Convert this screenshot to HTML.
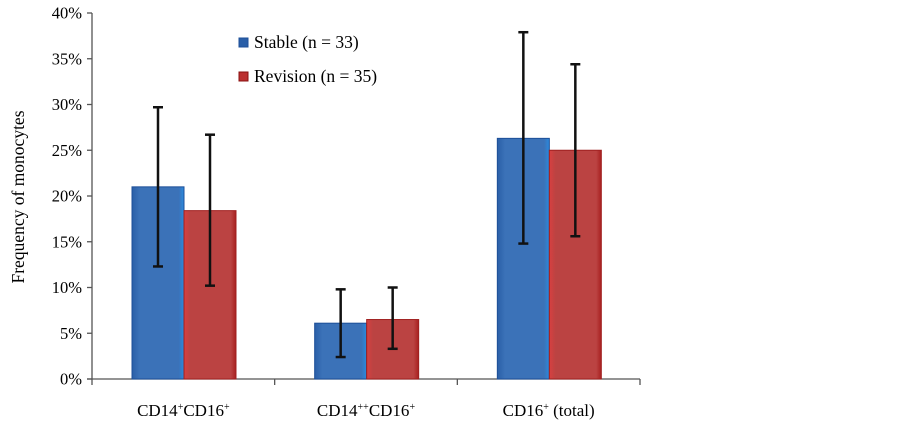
<!DOCTYPE html>
<html><head><meta charset="utf-8"><style>
body{margin:0;background:#fff;}
svg{display:block;font-family:"Liberation Serif",serif;}
</style></head><body>
<svg id="c" width="903" height="424">
<defs>
<linearGradient id="gb" x1="0" x2="1"><stop offset="0" stop-color="#2a5fa8"/><stop offset="0.15" stop-color="#3b72b8"/><stop offset="0.9" stop-color="#3b72b8"/><stop offset="1" stop-color="#2a8be0"/></linearGradient>
<linearGradient id="gr" x1="0" x2="1"><stop offset="0" stop-color="#d84040"/><stop offset="0.12" stop-color="#bb4342"/><stop offset="0.9" stop-color="#bb4342"/><stop offset="1" stop-color="#a82020"/></linearGradient>
</defs>
</svg>
<script>
const catLabels=[["CD14","+","CD16","+"],["CD14","++","CD16","+"],["CD16","+"," (total)",""]];
const stable=[21.0,6.1,26.3];
const stableLo=[12.3,2.4,14.8];
const stableHi=[29.7,9.8,37.9];
const revision=[18.4,6.5,25.0];
const revisionLo=[10.2,3.3,15.6];
const revisionHi=[26.7,10.0,34.4];
const yTicks=[0,5,10,15,20,25,30,35,40];
const ns="http://www.w3.org/2000/svg";
const svg=document.getElementById('c');
const x0=92,x1=640,y0=379,y1=13,ymax=40;
const band=(x1-x0)/3;
const Y=v=>y0-(v/ymax)*(y0-y1);
const X=i=>x0+i*band;
function el(t,a,p){const e=document.createElementNS(ns,t);for(const k in a)e.setAttribute(k,a[k]);(p||svg).appendChild(e);return e;}
let ax=el('line',{x1:x0,y1:y1,x2:x0,y2:y0,stroke:'#555','stroke-width':1.3});


let bx=el('line',{x1:x0-5,y1:y0,x2:x1,y2:y0,stroke:'#555','stroke-width':1.3});


yTicks.forEach(t=>{
 const tl=el('line',{x1:x0-5,y1:Y(t),x2:x0,y2:Y(t),stroke:'#555','stroke-width':1.3});
 
 
 const tx=el('text',{x:x0-10,y:Y(t)+5.5,'text-anchor':'end','font-size':16.5});
 tx.textContent=t+'%';
 
 
});
for(let i=0;i<=3;i++){
 const tl=el('line',{x1:X(i),y1:y0,x2:X(i),y2:y0+6,stroke:'#555','stroke-width':1.3});
 
 
}
const bw=52,off=40;
function bar(i,v,lo,hi,fill,edge,xs,name){
 const r=el('rect',{x:xs,y:Y(v),width:bw,height:y0-Y(v),fill:fill,stroke:edge,'stroke-width':1});
 
 
 const cx=xs+bw/2;
 const g=el('g',{stroke:'#111','stroke-width':2.5});
 
 
 el('line',{x1:cx,y1:Y(hi),x2:cx,y2:Y(lo)},g);
 el('line',{x1:cx-5,y1:Y(hi),x2:cx+5,y2:Y(hi)},g);
 el('line',{x1:cx-5,y1:Y(lo),x2:cx+5,y2:Y(lo)},g);
}
for(let i=0;i<3;i++){
 bar(i,stable[i],stableLo[i],stableHi[i],'url(#gb)','#1d4f98',X(i)+off,'bar-stable-'+i);
 bar(i,revision[i],revisionLo[i],revisionHi[i],'url(#gr)','#a02020',X(i)+off+bw,'bar-revision-'+i);
 const t=el('text',{x:X(i)+band/2,y:416,'text-anchor':'middle','font-size':17});
 const p=catLabels[i];
 t.innerHTML=p[0]+'<tspan font-size="10" dy="-6">'+p[1]+'</tspan><tspan dy="6">'+p[2]+'</tspan><tspan font-size="10" dy="-6">'+p[3]+'</tspan>';
 
 
}
const yt=el('text',{x:0,y:0,transform:'translate(24,197) rotate(-90)','text-anchor':'middle','font-size':17.5});
yt.textContent='Frequency of monocytes';


[['Stable (n = 33)','#2a5fa8','#1d4f98',42],['Revision (n = 35)','#bb3030','#8a1010',76]].forEach((l,k)=>{
 const g=el('g',{});
 
 
 el('rect',{x:239,y:l[3]-4,width:9,height:9,fill:l[1],stroke:l[2]},g);
 const t=el('text',{x:254,y:l[3]+6,'font-size':17.5},g);
 t.textContent=l[0];
});
</script>
</body></html>
